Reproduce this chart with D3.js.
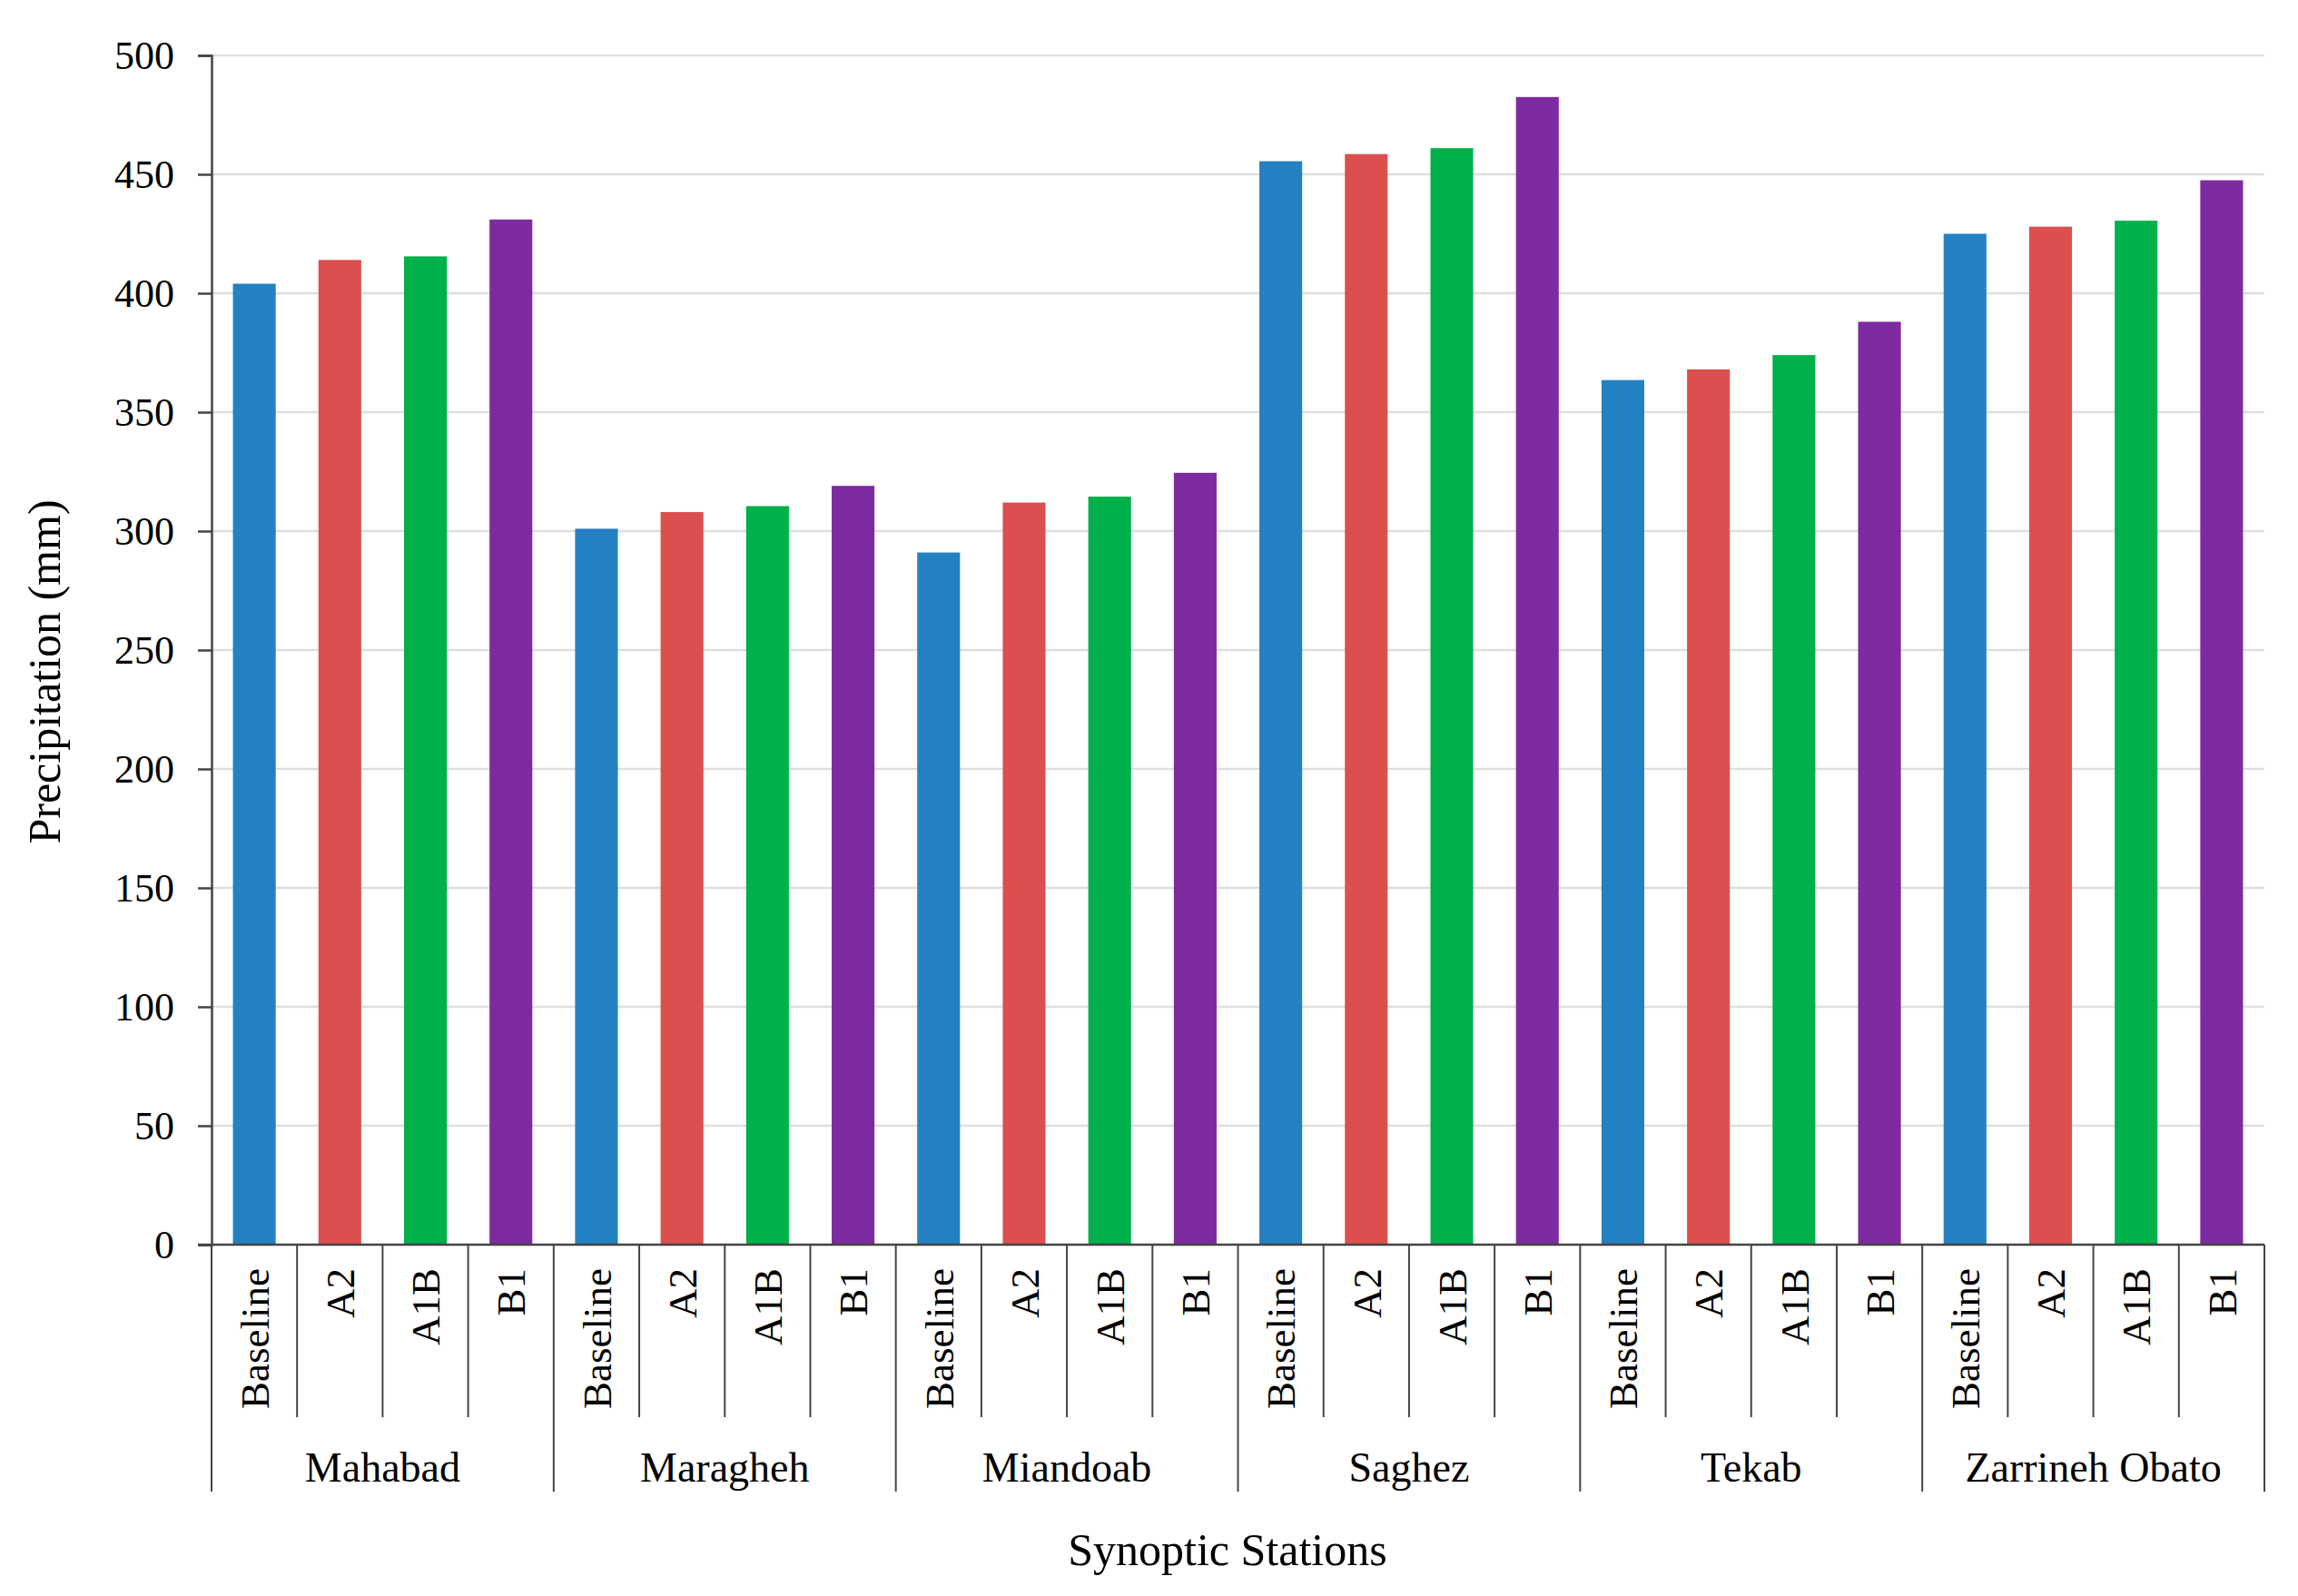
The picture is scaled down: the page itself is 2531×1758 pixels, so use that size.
<!DOCTYPE html>
<html>
  <head>
    <meta charset="utf-8">
    <style>
      body { margin: 0; background: #fff; }
      text { font-family: 'Liberation Serif', 'Times New Roman', serif; fill: #000; }
    </style>
  </head>
  <body>
    <div class='chart-container'></div>
    <script src="https://cdn.jsdelivr.net/npm/d3@7"></script>
    <script>
// data
var stations = ['Mahabad', 'Maragheh', 'Miandoab', 'Saghez', 'Tekab', 'Zarrineh Obato'];
var scenarios = ['Baseline', 'A2', 'A1B', 'B1'];
var baseline = [404, 301, 291, 455.5, 363.5, 425];
var a2 = [414, 308, 312, 458.5, 368, 428];
var a1b = [415.5, 310.5, 314.5, 461, 374, 430.5];
var b1 = [431, 319, 324.5, 482.5, 388, 447.5];
var yTicks = [0, 50, 100, 150, 200, 250, 300, 350, 400, 450, 500];

var colors = ['#2481c1', '#db504e', '#00b04b', '#7e2aa0'];
var seriesValues = [baseline, a2, a1b, b1];

var W = 2531, H = 1758;
var margin = {left: 233, right: 2494, top: 61, bottom: 1371};

// flatten into one bar per station/scenario
var bars = [];
stations.forEach(function(st, i) {
  scenarios.forEach(function(sc, j) {
    bars.push({ key: st + '|' + sc, station: st, scenario: sc, si: j, value: seriesValues[j][i] });
  });
});

var x = d3.scaleBand()
    .domain(bars.map(d => d.key))
    .range([margin.left, margin.right])
    .paddingInner(0.5)
    .paddingOuter(0.25);

var xGroup = d3.scaleBand()
    .domain(stations)
    .range([margin.left, margin.right]);

var y = d3.scaleLinear()
    .domain([0, 500])
    .range([margin.bottom, margin.top]);

var svg = d3.select('.chart-container').append('svg')
    .attr('width', W)
    .attr('height', H);

// gridlines
svg.append('g')
    .selectAll('line')
    .data(yTicks.filter(d => d > 0))
    .enter().append('line')
      .attr('x1', margin.left)
      .attr('x2', margin.right)
      .attr('y1', d => y(d))
      .attr('y2', d => y(d))
      .style('stroke', '#dedede')
      .style('stroke-width', 2.5);

// bars
svg.append('g')
    .selectAll('rect')
    .data(bars)
    .enter().append('rect')
      .attr('x', d => x(d.key))
      .attr('width', x.bandwidth())
      .attr('y', d => y(d.value))
      .attr('height', d => y(0) - y(d.value))
      .style('fill', d => colors[d.si]);

// y axis
var yAxis = d3.axisLeft(y)
    .tickValues(yTicks)
    .tickSize(15)
    .tickPadding(26);

var gy = svg.append('g')
    .attr('transform', 'translate(' + margin.left + ',0)')
    .call(yAxis);
gy.select('.domain').style('stroke', '#444').style('stroke-width', 2.5);
gy.selectAll('.tick line').style('stroke', '#444').style('stroke-width', 2.5);
gy.selectAll('.tick text')
    .style('font-family', "'Liberation Serif', serif")
    .style('font-size', '44px')
    .style('fill', '#000');

// x axis baseline
svg.append('line')
    .attr('x1', margin.left - 15)
    .attr('x2', margin.right)
    .attr('y1', margin.bottom)
    .attr('y2', margin.bottom)
    .style('stroke', '#444')
    .style('stroke-width', 2.5);

// separators between categories
var step = x.step();
var x0 = margin.left;
svg.append('g')
    .selectAll('line')
    .data(d3.range(bars.length + 1))
    .enter().append('line')
      .attr('x1', i => x0 + i * step)
      .attr('x2', i => x0 + i * step)
      .attr('y1', margin.bottom)
      .attr('y2', i => i % scenarios.length === 0 ? 1643 : 1561)
      .style('stroke', '#444')
      .style('stroke-width', 2);

// scenario labels (rotated)
svg.append('g')
    .selectAll('text')
    .data(bars)
    .enter().append('text')
      .attr('transform', d => 'translate(' + (x(d.key) + x.bandwidth() / 2) + ',1397) rotate(-90)')
      .attr('text-anchor', 'end')
      .attr('dy', '0.35em')
      .style('font-size', '45px')
      .text(d => d.scenario);

// station labels
svg.append('g')
    .selectAll('text')
    .data(stations)
    .enter().append('text')
      .attr('x', d => xGroup(d) + xGroup.bandwidth() / 2)
      .attr('y', 1632)
      .attr('text-anchor', 'middle')
      .style('font-size', '46px')
      .text(d => d);

// axis titles
svg.append('text')
    .attr('x', 1352)
    .attr('y', 1724)
    .attr('text-anchor', 'middle')
    .style('font-size', '50px')
    .text('Synoptic Stations');

svg.append('text')
    .attr('transform', 'translate(66,740) rotate(-90)')
    .attr('text-anchor', 'middle')
    .style('font-size', '50px')
    .text('Precipitation (mm)');
    </script>
  </body>
</html>
